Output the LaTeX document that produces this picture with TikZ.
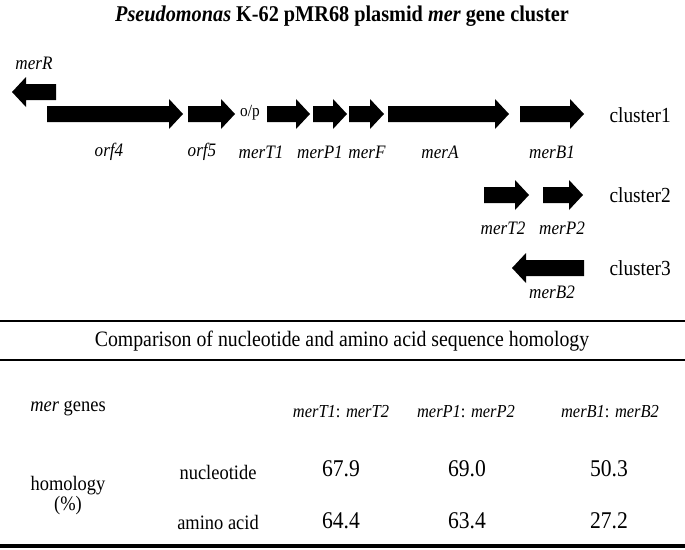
\documentclass[tikz,border=0pt]{standalone}
\usepackage{fontspec}
\setmainfont{Liberation Serif}[FakeStretch=0.9]
\usetikzlibrary{positioning}
\newcommand{\fsz}[1]{\fontsize{#1}{#1}\selectfont}
% forward and reverse gene arrows: start x, tip x, mid y
\newcommand{\fwdgene}[3]{\fill (#1,#3-8) -- (#2-14,#3-8) -- (#2-14,#3-15) -- (#2,#3) -- (#2-14,#3+15) -- (#2-14,#3+8) -- (#1,#3+8) -- cycle;}
\newcommand{\revgene}[3]{\fill (#2,#3-8) -- (#1+14,#3-8) -- (#1+14,#3-15) -- (#1,#3) -- (#1+14,#3+15) -- (#1+14,#3+8) -- (#2,#3+8) -- cycle;}
\tikzset{
  genelabel/.style={font=\fsz{19}\itshape},
  clusterlabel/.style={font=\fsz{21.5},anchor=west},
  rowlabel/.style={font=\fsz{20.5}},
  colhead/.style={font=\fsz{18.3}},
  cellnum/.style={font=\fsz{24}},
  rule/.style={line width=2.5pt}
}
\begin{document}
\begin{tikzpicture}[x=1pt,y=-1pt]
\useasboundingbox (0,0) rectangle (685,549);
\node[font=\fsz{22.5}\bfseries] (title) at (342,16) {\textit{Pseudomonas} K-62 pMR68 plasmid \textit{mer} gene cluster};
% cluster1
\revgene{12}{56}{92}
\node[genelabel] (merR) at (34,63) {merR};
\foreach \xa/\xb/\xl/\gname in {47/183/109/orf4,188/235/202/orf5,267/310/261/merT1,313/347/320/merP1,349/384/367/merF,388/509/440/merA,520/584/552/merB1}{
  \fwdgene{\xa}{\xb}{114}
  \node[genelabel] (\gname) at (\xl,152) {\gname};
}
\node[font=\fsz{17}] (op) at (250,113) {o/p};
\node[clusterlabel] (c1) at (606,115) {cluster1};
% cluster2
\fwdgene{484}{529}{195}
\fwdgene{543}{583}{195}
\node[genelabel] (merT2) at (503,228) {merT2};
\node[genelabel] (merP2) at (562,228) {merP2};
\node[clusterlabel] (c2) at (606,195) {cluster2};
% cluster3
\revgene{512}{584}{268}
\node[genelabel] (merB2) at (552,292) {merB2};
\node[clusterlabel] (c3) at (606,268) {cluster3};
% table
\draw[rule] (0,321) -- (685,321);
\draw[rule] (0,360) -- (685,360);
\draw[line width=3.5pt] (0,546) -- (685,546);
\node[font=\fsz{22}] (cmp) at (342,341) {Comparison of nucleotide and amino acid sequence homology};
\node[rowlabel] (genes) at (68,408) {\textit{mer} genes};
\node[colhead] (h1) at (341,412) {\textit{merT1}: \textit{merT2}};
\node[colhead] (h2) at (466,412) {\textit{merP1}: \textit{merP2}};
\node[colhead] (h3) at (610,412) {\textit{merB1}: \textit{merB2}};
\node[rowlabel,inner sep=0pt] (hom) at (68,486) {homology};
\node[rowlabel,inner sep=0pt,below=1pt of hom] (pct) {(\%)};
\node[rowlabel] (nuc) at (218,472) {nucleotide};
\node[rowlabel] (aa) at (218,522) {amino acid};
\foreach \xv/\va/\vb in {341/67.9/64.4,467/69.0/63.4,609/50.3/27.2}{
  \node[cellnum] at (\xv,469) {\va};
  \node[cellnum] at (\xv,521) {\vb};
}
\end{tikzpicture}
\end{document}
